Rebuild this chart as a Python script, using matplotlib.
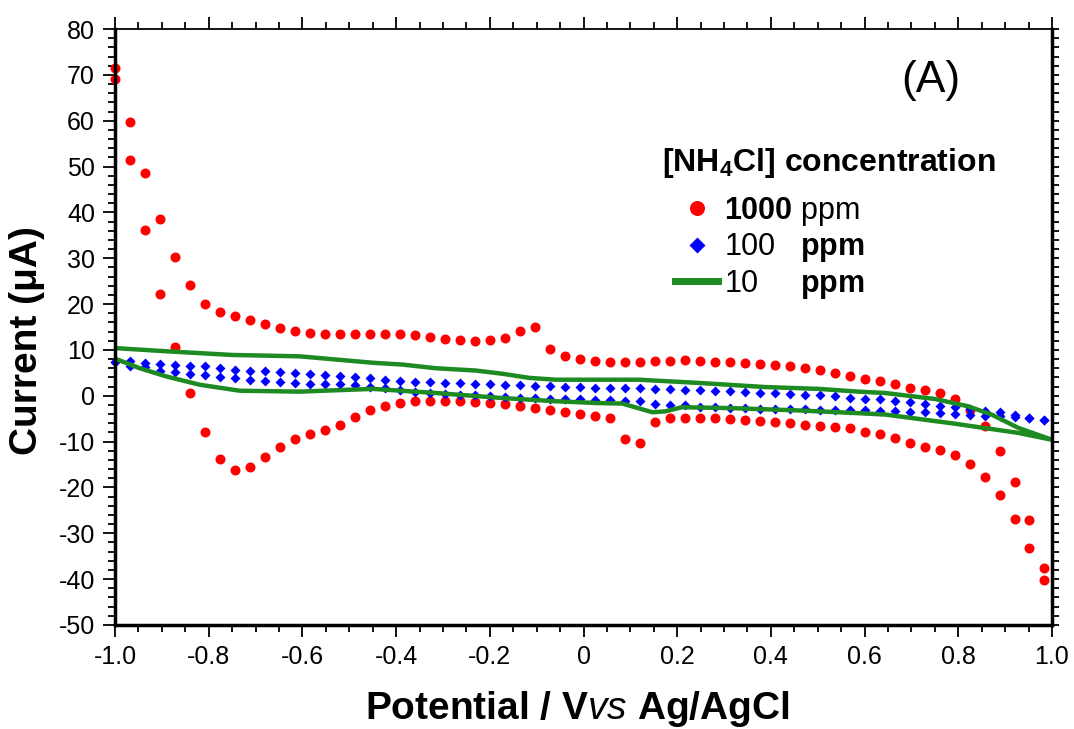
import numpy as np
import matplotlib.pyplot as plt
from matplotlib.ticker import MultipleLocator

plt.rcParams['font.family'] = ['Liberation Sans', 'DejaVu Sans']
plt.rcParams['mathtext.fontset'] = 'custom'
plt.rcParams['mathtext.rm'] = 'Liberation Sans'
plt.rcParams['mathtext.it'] = 'Liberation Sans:italic'
plt.rcParams['mathtext.bf'] = 'Liberation Sans:bold'
plt.rcParams['axes.unicode_minus'] = False

# potential steps of the CV scan (V vs Ag/AgCl)
potential = [-1.000, -0.968, -0.936, -0.904, -0.872, -0.840, -0.808, -0.776, -0.744, -0.712,
             -0.680, -0.648, -0.616, -0.584, -0.552, -0.520, -0.488, -0.456, -0.424, -0.392,
             -0.360, -0.328, -0.296, -0.264, -0.232, -0.200, -0.168, -0.136, -0.104, -0.072,
             -0.040, -0.008, 0.024, 0.056, 0.088, 0.120, 0.152, 0.184, 0.216, 0.248,
             0.280, 0.312, 0.344, 0.376, 0.408, 0.440, 0.472, 0.504, 0.536, 0.568,
             0.600, 0.632, 0.664, 0.696, 0.728, 0.760, 0.792, 0.824, 0.856, 0.888,
             0.920, 0.952, 0.984]

# 1000 ppm, current in uA (upper and lower branch)
i1000_up = [71.6, 59.8, 48.6, 38.5, 30.2, 24.1, 20.1, 18.3, 17.5, 16.5,
            15.7, 14.8, 14.2, 13.6, 13.4, 13.4, 13.4, 13.5, 13.5, 13.5,
            13.2, 12.9, 12.4, 12.1, 11.9, 12.2, 12.7, 14.2, 15.0, 10.3,
            8.7, 8.0, 7.6, 7.4, 7.4, 7.4, 7.6, 7.6, 7.9, 7.6,
            7.4, 7.4, 7.2, 7.0, 6.8, 6.5, 6.1, 5.7, 5.0, 4.3,
            3.6, 3.2, 2.5, 1.7, 1.2, 0.6, -0.7, -3.1, -6.6, -12.0,
            -18.8, -27.2, -37.6]
i1000_dn = [69.1, 51.5, 36.1, 22.2, 10.6, 0.6, -7.8, -13.7, -16.3, -15.6,
            -13.4, -11.1, -9.5, -8.4, -7.4, -6.3, -4.6, -3.1, -2.2, -1.6,
            -1.2, -1.1, -1.1, -1.1, -1.3, -1.6, -1.9, -2.3, -2.7, -3.0,
            -3.5, -4.0, -4.4, -4.8, -9.4, -10.2, -5.8, -4.9, -4.8, -4.9,
            -4.9, -5.1, -5.2, -5.4, -5.7, -5.9, -6.3, -6.5, -6.8, -7.1,
            -7.8, -8.4, -9.2, -10.2, -11.1, -11.9, -12.9, -14.8, -17.7, -21.7,
            -26.9, -33.2, -40.2]

# 100 ppm
i100_up = [7.3, 7.6, 7.1, 6.9, 6.8, 6.5, 6.4, 6.0, 5.7, 5.5,
           5.3, 5.1, 4.9, 4.7, 4.6, 4.4, 4.1, 3.8, 3.5, 3.3,
           3.1, 3.0, 2.8, 2.8, 2.6, 2.5, 2.4, 2.3, 2.2, 2.1,
           2.0, 1.9, 1.8, 1.7, 1.7, 1.6, 1.5, 1.4, 1.3, 1.2,
           1.1, 0.95, 0.9, 0.65, 0.6, 0.4, 0.2, 0.1, -0.15, -0.4,
           -0.6, -0.8, -1.1, -1.4, -1.7, -2.2, -2.5, -2.9, -3.3, -3.6,
           -4.2, -4.8, -5.2]
i100_dn = [7.3, 6.5, 6.2, 5.5, 5.2, 4.7, 4.6, 4.2, 3.9, 3.5,
           3.3, 3.0, 2.8, 2.6, 2.5, 2.5, 2.4, 2.0, 1.6, 1.2,
           0.9, 0.6, 0.4, 0.2, 0.1, -0.1, -0.3, -0.4, -0.5, -0.6,
           -0.7, -0.8, -0.9, -1.0, -1.1, -1.2, -1.7, -2.1, -2.0, -2.5,
           -2.5, -2.6, -2.7, -2.8, -2.8, -2.8, -2.9, -3.0, -3.05, -3.1,
           -3.1, -3.3, -3.3, -3.5, -3.6, -3.8, -4.0, -4.2, -4.4, -4.5,
           -4.6, -4.9, -5.2]

# 10 ppm (continuous line), lower branch -1 -> 1, upper branch
v10_dn = [-1.0, -0.947, -0.89, -0.819, -0.734, -0.606, -0.45, -0.315, -0.173, -0.059,
          0.033, 0.083, 0.147, 0.175, 0.21, 0.317, 0.459, 0.587, 0.644, 0.786, 0.928, 1.0]
i10_dn = [8.1, 6.0, 4.2, 2.4, 1.1, 0.9, 1.5, 0.6, -0.5, -1.2,
          -1.6, -1.7, -3.6, -3.4, -2.5, -2.7, -3.2, -3.8, -4.1, -6.0, -8.1, -9.6]
v10_up = [-1.0, -0.89, -0.75, -0.606, -0.45, -0.386, -0.315, -0.23, -0.173, -0.116,
          -0.059, 0.033, 0.118, 0.246, 0.388, 0.502, 0.587, 0.644, 0.75, 0.821, 0.871, 0.928, 1.0]
i10_up = [10.4, 9.7, 8.9, 8.6, 7.2, 6.8, 6.0, 5.5, 4.8, 3.9,
          3.5, 3.5, 3.5, 2.8, 1.9, 1.5, 0.9, 0.6, -0.7, -2.3, -4.1, -7.0, -9.6]

xtick_vals = [-1.0, -0.8, -0.6, -0.4, -0.2, 0, 0.2, 0.4, 0.6, 0.8, 1.0]
xtick_labels = ['-1.0', '-0.8', '-0.6', '-0.4', '-0.2', '0', '0.2', '0.4', '0.6', '0.8', '1.0']
ytick_vals = list(range(-50, 81, 10))

fig = plt.figure(figsize=(10.74, 7.29), dpi=100)
ax = fig.add_axes([0.1071, 0.1427, 0.8724, 0.8175])

red_line, = ax.plot(potential, i1000_up, 'o', color='#ff0000', ms=7.2, mec='none', clip_on=False)
ax.plot(potential, i1000_dn, 'o', color='#ff0000', ms=7.2, mec='none', clip_on=False)
blue_line, = ax.plot(potential, i100_up, 'D', color='#0000ff', ms=5.4, mec='none', clip_on=False)
ax.plot(potential, i100_dn, 'D', color='#0000ff', ms=5.4, mec='none', clip_on=False)
green_v = np.concatenate([v10_dn, v10_up[::-1]])
green_i = np.concatenate([i10_dn, i10_up[::-1]])
green_line, = ax.plot(green_v, green_i, color='#1e8a22', lw=3.2, solid_joinstyle='round')

ax.set_xlim(-1.0, 1.0)
ax.set_ylim(-50, 80)
ax.set_xticks(xtick_vals)
ax.set_xticklabels(xtick_labels)
ax.set_yticks(ytick_vals)
ax.xaxis.set_minor_locator(MultipleLocator(0.05))
ax.yaxis.set_minor_locator(MultipleLocator(2))
ax.tick_params(which='both', direction='out', top=True, right=True, labelsize=18, width=1.3, pad=6)
ax.tick_params(which='major', length=8.5)
ax.tick_params(which='minor', length=5)
for t in ax.yaxis.get_major_ticks():
    t.tick2line.set_markersize(5)

for side in ['left', 'bottom', 'right']:
    ax.spines[side].set_linewidth(2.5)
ax.spines['top'].set_linewidth(1.3)

ax.set_xlabel(r'$\mathbf{Potential\ /\ V}\mathit{vs}\ \mathbf{Ag/AgCl}$', fontsize=28)
ax.set_ylabel('Current (μA)', fontsize=28, fontweight='bold')
ax.xaxis.set_label_coords(0.494, -0.108)
ax.yaxis.set_label_coords(-0.075, 0.477)

ax.text(0.871, 0.914, '(A)', transform=ax.transAxes, fontsize=32, ha='center', va='center')
ax.text(0.762, 0.775, r'[NH$_\mathbf{4}$Cl] concentration', transform=ax.transAxes,
        fontsize=23, fontweight='bold', ha='center', va='center')

leg = ax.legend([red_line, blue_line, green_line],
                [r'$\mathbf{1000}$ ppm', r'100   $\mathbf{ppm}$', r'10     $\mathbf{ppm}$'],
                loc='upper left', bbox_to_anchor=(0.598, 0.722), frameon=False,
                fontsize=22, borderpad=0, borderaxespad=0, handlelength=1.4,
                handletextpad=0.2, labelspacing=0.12, markerscale=1.5)
leg.get_lines()[2].set_linewidth(5)

fig.savefig('out.png', dpi=100)
